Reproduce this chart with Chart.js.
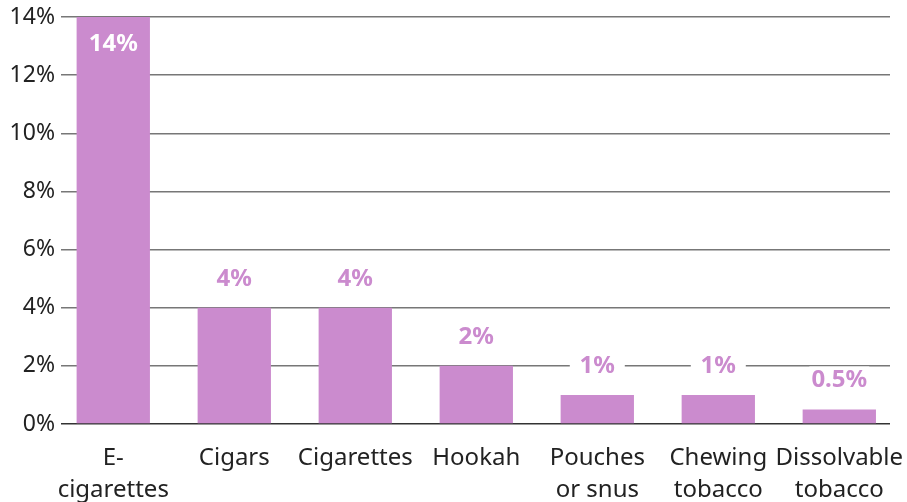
<!DOCTYPE html>
<html>
<head>
<meta charset="utf-8">
<script src="https://cdn.jsdelivr.net/npm/chart.js@4/dist/chart.umd.min.js"></script>
<style>
  html, body { margin: 0; padding: 0; background: #fff; }
  #wrap { width: 907px; height: 502px; }
</style>
</head>
<body>
<div id="wrap"><canvas id="c"></canvas></div>
<script>
// Tobacco product use
const products = [
  ['E-', 'cigarettes'],
  'Cigars',
  'Cigarettes',
  'Hookah',
  ['Pouches', 'or snus'],
  ['Chewing', 'tobacco'],
  ['Dissolvable', 'tobacco']
];
const usePercent = [14, 4, 4, 2, 1, 1, 0.5];
const yTicks = [0, 2, 4, 6, 8, 10, 12, 14];

const BAR = '#cb8bce';
const FONT = "'Noto Sans', 'Open Sans', sans-serif";

// Value labels: above the bar in purple on a white box, or inside in white when there is no room above
const valueLabels = {
  id: 'valueLabels',
  afterDatasetsDraw(chart) {
    const ctx = chart.ctx;
    const meta = chart.getDatasetMeta(0);
    const area = chart.chartArea;
    ctx.save();
    ctx.font = "bold 24px " + FONT;
    ctx.textAlign = 'center';
    ctx.textBaseline = 'middle';
    meta.data.forEach((bar, i) => {
      const text = usePercent[i] + '%';
      const above = bar.y - 29;
      if (above - 13 < area.top) {
        ctx.fillStyle = '#ffffff';
        ctx.fillText(text, bar.x, bar.y + 27);
      } else {
        const w = Math.max(ctx.measureText(text).width + 4, 55);
        ctx.fillStyle = '#ffffff';
        ctx.fillRect(bar.x - w / 2, above - 14, w, 28);
        ctx.fillStyle = BAR;
        ctx.fillText(text, bar.x, above);
      }
    });
    ctx.restore();
  }
};

new Chart(document.getElementById('c'), {
  type: 'bar',
  data: {
    datasets: [{
      data: usePercent.map((v, i) => ({ x: i, y: v })),
      backgroundColor: BAR,
      borderWidth: 0,
      categoryPercentage: 1,
      barPercentage: 0.606
    }]
  },
  options: {
    responsive: true,
    maintainAspectRatio: false,
    animation: false,
    layout: { padding: { top: 17, right: 17, left: 0, bottom: 0 } },
    plugins: { legend: { display: false }, tooltip: { enabled: false } },
    scales: {
      x: {
        type: 'linear',
        offset: false,
        min: -0.432,
        max: 6.419,
        grid: { display: false, offset: false },
        border: { display: false },
        afterBuildTicks(scale) {
          scale.ticks = products.map((_, i) => ({ value: i }));
        },
        afterFit(scale) {
          scale.height = 78;
          scale.paddingLeft = 0;
          scale.paddingRight = 0;
        },
        ticks: {
          autoSkip: false,
          maxRotation: 0,
          padding: 10,
          color: '#222',
          font: { family: FONT, size: 24, lineHeight: 1.33 },
          callback: (v) => products[v]
        }
      },
      y: {
        min: 0,
        max: 14,
        afterBuildTicks(scale) {
          scale.ticks = yTicks.map(v => ({ value: v }));
        },
        afterFit(scale) {
          scale.width = 61;
          scale.paddingTop = 0;
          scale.paddingBottom = 0;
        },
        border: { display: false },
        grid: {
          drawTicks: false,
          color: (c) => c.tick && c.tick.value === 0 ? '#333333' : '#777777',
          lineWidth: 1.5
        },
        ticks: {
          padding: 6,
          color: '#222',
          font: { family: FONT, size: 23 },
          callback: (v) => v + '%'
        }
      }
    }
  },
  plugins: [valueLabels]
});
</script>
</body>
</html>
